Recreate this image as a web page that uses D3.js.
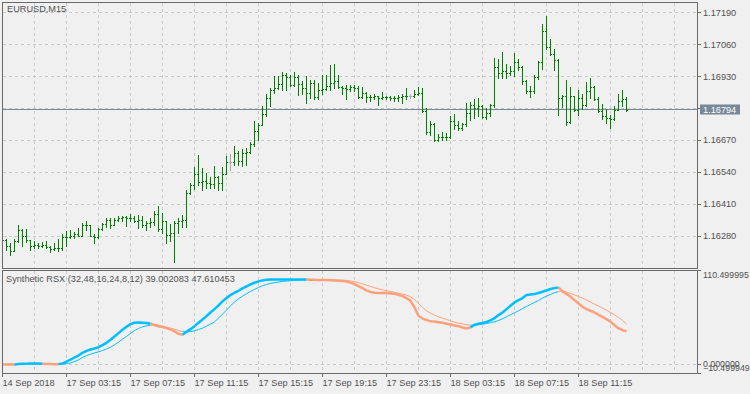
<!DOCTYPE html>
<html>
<head>
<meta charset="utf-8">
<script src="https://cdnjs.cloudflare.com/ajax/libs/d3/7.8.5/d3.min.js"></script>
<style>
  body { margin: 0; background: #f0f0f0; }
  svg { display: block; font-family: "Liberation Sans", Arial, sans-serif; }
</style>
</head>
<body>
<div id="chart"></div>
<script>
// Data
const symbolTitle = "EURUSD,M15";
const indicatorName = "Synthetic RSX (32,48,16,24,8,12)";

const barOpen = [1.16258,1.16263,1.16241,1.16221,1.16258,1.16306,1.16282,1.16262,1.16241,1.16244,
  1.16239,1.16244,1.16236,1.16228,1.16230,1.16233,1.16274,1.16277,1.16279,1.16287,
  1.16282,1.16326,1.16323,1.16282,1.16274,1.16309,1.16328,1.16347,1.16326,1.16344,
  1.16355,1.16358,1.16352,1.16355,1.16339,1.16347,1.16323,1.16334,1.16336,1.16371,
  1.16309,1.16341,1.16286,1.16292,1.16334,1.16340,1.16347,1.16456,1.16489,1.16530,
  1.16500,1.16503,1.16496,1.16492,1.16519,1.16496,1.16533,1.16582,1.16582,1.16616,
  1.16584,1.16618,1.16622,1.16652,1.16706,1.16733,1.16777,1.16842,1.16875,1.16881,
  1.16896,1.16933,1.16925,1.16893,1.16925,1.16898,1.16882,1.16862,1.16902,1.16844,
  1.16875,1.16878,1.16891,1.16900,1.16909,1.16886,1.16882,1.16879,1.16886,1.16882,
  1.16846,1.16862,1.16846,1.16843,1.16848,1.16842,1.16846,1.16844,1.16842,1.16839,
  1.16846,1.16848,1.16851,1.16851,1.16858,1.16862,1.16786,1.16703,1.16737,1.16672,
  1.16683,1.16684,1.16683,1.16746,1.16733,1.16720,1.16737,1.16781,1.16814,1.16802,
  1.16807,1.16764,1.16778,1.16811,1.16967,1.16943,1.16950,1.16943,1.16950,1.16986,
  1.16967,1.16909,1.16871,1.16868,1.16927,1.16988,1.17115,1.17049,1.17021,1.16997,
  1.16842,1.16848,1.16744,1.16848,1.16794,1.16842,1.16811,1.16868,1.16885,1.16835,
  1.16787,1.16767,1.16760,1.16757,1.16794,1.16828,1.16835];

const barHigh = [1.16278,1.16266,1.16250,1.16269,1.16323,1.16310,1.16309,1.16265,1.16259,1.16252,
  1.16255,1.16258,1.16241,1.16252,1.16266,1.16287,1.16300,1.16304,1.16295,1.16312,
  1.16334,1.16339,1.16326,1.16287,1.16312,1.16331,1.16352,1.16352,1.16352,1.16363,
  1.16363,1.16363,1.16371,1.16360,1.16366,1.16363,1.16342,1.16352,1.16382,1.16401,
  1.16373,1.16343,1.16327,1.16339,1.16354,1.16367,1.16469,1.16496,1.16562,1.16608,
  1.16557,1.16537,1.16519,1.16564,1.16522,1.16562,1.16604,1.16614,1.16644,1.16625,
  1.16632,1.16636,1.16663,1.16746,1.16740,1.16807,1.16858,1.16882,1.16929,1.16932,
  1.16947,1.16943,1.16936,1.16947,1.16933,1.16909,1.16931,1.16916,1.16916,1.16902,
  1.16933,1.16936,1.16973,1.16980,1.16933,1.16891,1.16893,1.16893,1.16893,1.16889,
  1.16886,1.16866,1.16852,1.16858,1.16851,1.16864,1.16851,1.16848,1.16848,1.16855,
  1.16858,1.16882,1.16858,1.16875,1.16885,1.16882,1.16801,1.16749,1.16741,1.16696,
  1.16702,1.16699,1.16767,1.16774,1.16746,1.16740,1.16821,1.16824,1.16835,1.16842,
  1.16811,1.16802,1.16816,1.17004,1.17000,1.17028,1.16977,1.16970,1.17024,1.17000,
  1.16970,1.16916,1.16891,1.16936,1.16990,1.17143,1.17176,1.17081,1.17041,1.17001,
  1.16855,1.16912,1.16886,1.16851,1.16872,1.16859,1.16905,1.16923,1.16889,1.16846,
  1.16818,1.16797,1.16770,1.16807,1.16859,1.16875,1.16846];

const barLow = [1.16250,1.16225,1.16202,1.16218,1.16255,1.16239,1.16255,1.16225,1.16233,1.16230,
  1.16236,1.16232,1.16214,1.16222,1.16220,1.16222,1.16241,1.16271,1.16271,1.16279,
  1.16279,1.16304,1.16280,1.16252,1.16271,1.16304,1.16317,1.16312,1.16323,1.16342,
  1.16342,1.16320,1.16339,1.16336,1.16312,1.16317,1.16306,1.16317,1.16326,1.16301,
  1.16294,1.16251,1.16259,1.16175,1.16293,1.16317,1.16316,1.16449,1.16473,1.16489,
  1.16469,1.16476,1.16476,1.16476,1.16465,1.16469,1.16530,1.16550,1.16570,1.16568,
  1.16566,1.16568,1.16618,1.16644,1.16672,1.16730,1.16767,1.16807,1.16862,1.16879,
  1.16875,1.16872,1.16890,1.16890,1.16852,1.16858,1.16821,1.16842,1.16835,1.16835,
  1.16858,1.16875,1.16875,1.16882,1.16882,1.16858,1.16837,1.16868,1.16868,1.16842,
  1.16842,1.16825,1.16828,1.16835,1.16811,1.16835,1.16837,1.16831,1.16828,1.16828,
  1.16821,1.16837,1.16839,1.16844,1.16852,1.16784,1.16696,1.16692,1.16665,1.16665,
  1.16669,1.16672,1.16680,1.16713,1.16710,1.16710,1.16729,1.16750,1.16761,1.16767,
  1.16760,1.16756,1.16767,1.16806,1.16923,1.16923,1.16923,1.16936,1.16929,1.16956,
  1.16896,1.16862,1.16846,1.16862,1.16919,1.16959,1.17041,1.17015,1.16954,1.16770,
  1.16805,1.16733,1.16740,1.16787,1.16770,1.16797,1.16810,1.16842,1.16832,1.16783,
  1.16757,1.16740,1.16720,1.16753,1.16791,1.16807,1.16787];

const barClose = [1.16263,1.16241,1.16221,1.16258,1.16306,1.16282,1.16262,1.16241,1.16244,1.16239,
  1.16244,1.16236,1.16228,1.16230,1.16233,1.16274,1.16277,1.16279,1.16287,1.16282,
  1.16326,1.16323,1.16282,1.16274,1.16309,1.16328,1.16347,1.16326,1.16344,1.16355,
  1.16358,1.16352,1.16355,1.16339,1.16347,1.16323,1.16334,1.16336,1.16371,1.16309,
  1.16341,1.16286,1.16292,1.16334,1.16340,1.16347,1.16456,1.16489,1.16530,1.16500,
  1.16503,1.16496,1.16492,1.16519,1.16496,1.16533,1.16582,1.16582,1.16616,1.16584,
  1.16618,1.16622,1.16652,1.16706,1.16733,1.16777,1.16842,1.16875,1.16881,1.16896,
  1.16933,1.16925,1.16893,1.16925,1.16898,1.16882,1.16862,1.16902,1.16844,1.16875,
  1.16878,1.16891,1.16900,1.16909,1.16886,1.16882,1.16879,1.16886,1.16882,1.16846,
  1.16862,1.16846,1.16843,1.16848,1.16842,1.16846,1.16844,1.16842,1.16839,1.16846,
  1.16848,1.16851,1.16851,1.16858,1.16862,1.16786,1.16703,1.16737,1.16672,1.16683,
  1.16684,1.16683,1.16746,1.16733,1.16720,1.16737,1.16781,1.16814,1.16802,1.16807,
  1.16764,1.16778,1.16811,1.16967,1.16943,1.16950,1.16943,1.16950,1.16986,1.16967,
  1.16909,1.16871,1.16868,1.16927,1.16988,1.17115,1.17049,1.17021,1.16997,1.16842,
  1.16848,1.16744,1.16848,1.16794,1.16842,1.16811,1.16868,1.16885,1.16835,1.16787,
  1.16767,1.16760,1.16757,1.16794,1.16828,1.16835,1.16794];

const rsxMain = [0,0,0.1,0.2,0.6,0.9,1.1,1.2,1.2,1.2,1.1,0.8,0.6,0.5,0.5,
  1.2,3.6,5.9,8.3,10.6,13.8,16.1,17.7,18.9,20.4,22.8,25.5,29.1,33.0,36.9,40.8,44.4,47.5,49.1,49.5,
  49.1,48.7,47.9,46.4,45.1,44.0,42.8,41.2,38.9,36.1,34.9,
  38.5,41.6,45.1,49.1,53.0,56.9,61.2,65.1,69.5,74.2,78.1,81.6,84.4,86.7,89.5,91.8,94.2,96.1,97.7,98.9,99.6,
  100,100,100,100,100,100,100,100,100,100,
  99.6,99.5,99.4,99.3,99.2,99.0,98.8,98.6,98.3,
  97.6,96.3,94.5,92.2,89.8,87.1,85.3,84.4,
  84.2,84.0,84.0,83.6,83.2,82.0,80.4,78.1,74.9,67.1,57.3,54.0,52.2,51.0,50.6,49.8,49.1,47.9,47.1,45.9,45.1,43.6,42.4,
  43.6,46.8,48.0,49.0,50.0,52.0,54.5,58.1,61.2,65.1,69.1,73.0,75.7,78.1,81.6,82.4,82.8,84.0,85.5,87.1,88.7,89.8,90.6,
  86.0,82.8,79.6,75.7,71.8,67.9,65.1,63.2,61.2,58.5,56.1,53.4,50.2,46.3,42.8,40.4,39.002083];

const rsxSignal = [0.2,0.2,0.2,0.3,0.4,0.6,0.8,0.9,1.0,1.1,1.1,1.0,0.9,0.8,0.7,
  0.8,1.0,2.0,3.6,5.5,8.3,10.6,12.2,13.8,14.9,16.5,18.5,20.4,23.2,26.3,29.8,33.0,36.5,40.0,42.4,
  44.4,45.5,46.3,46.8,46.3,45.1,44.0,42.8,41.6,40.0,38.9,
  38.1,38.9,39.6,41.2,42.8,45.1,47.5,50.2,54.5,59.3,64.0,69.1,73.4,77.3,80.4,83.2,85.9,88.3,90.6,92.6,94.2,
  95.3,96.1,96.9,97.7,98.1,98.5,98.9,99.3,99.4,99.5,
  99.7,99.7,99.7,99.6,99.6,99.5,99.4,99.3,99.1,98.8,98.2,97.4,96.2,94.9,93.3,91.8,90.3,
  89.0,87.8,86.7,85.9,84.8,83.8,82.8,81.6,79.6,76.5,71.8,67.1,63.2,60.4,58.1,56.1,54.5,53.0,51.4,49.8,48.7,47.9,46.7,46.3,
  46.2,46.7,47.5,48.3,49.1,50.2,51.8,53.8,56.1,58.5,60.8,63.2,65.9,68.3,70.6,73.0,75.3,78.1,80.4,82.4,84.4,85.5,
  86.7,85.1,83.6,82.0,80.0,78.1,75.7,73.4,71.0,68.7,66.3,64.0,61.2,58.5,55.3,51.8,47.610453];

const priceTicks = [1.16280, 1.16410, 1.16540, 1.16670, 1.16800, 1.16930, 1.17060, 1.17190];
const lastPrice = 1.16794;
const priceMin = 1.16150, priceMax = 1.17233;
const rsxMin = -10.499949, rsxMax = 110.499995;
const rsxTicks = [rsxMax, 0, rsxMin];
const timeTickBars = [0, 16, 32, 48, 64, 80, 96, 112, 128, 144];
const timeTickLabels = ["14 Sep 2018", "17 Sep 03:15", "17 Sep 07:15", "17 Sep 11:15", "17 Sep 15:15",
  "17 Sep 19:15", "17 Sep 23:15", "18 Sep 03:15", "18 Sep 07:15", "18 Sep 11:15"];

// Layout
const [width, height] = [750, 394];
const left = 2, right = 697;
const mainTop = 2, mainBottom = 268, subTop = 270, subBottom = 373;
const barStep = 4, gridEvery = 8;
const fontSize = 9.2, subAxisFontSize = 8.8;
const bgColor = "#f0f0f0", frameColor = "#696969", textColor = "#505050", gridColor = "#c8c8c8";
const barColor = "#008000", dojiColor = "#a8a8a8";
const upColor = "#00bfff", downColor = "#ffa07a", priceLineColor = "#778899";

const svg = d3.select("#chart").append("svg")
  .attr("width", width)
  .attr("height", height);

svg.append("rect").attr("width", width).attr("height", height).attr("fill", bgColor);

const x = d3.scaleLinear().domain([0, 1]).range([left, left + barStep]);
const yPrice = d3.scaleLinear().domain([priceMin, priceMax]).range([mainBottom, mainTop - 0.5]);
const ySub = d3.scaleLinear().domain([rsxMin, rsxMax]).range([subBottom, subTop]);

const defs = svg.append("defs");
defs.append("clipPath").attr("id", "clipMain").append("rect")
  .attr("x", left + 1).attr("y", mainTop + 1).attr("width", right - left - 1).attr("height", mainBottom - mainTop - 1);
defs.append("clipPath").attr("id", "clipSub").append("rect")
  .attr("x", left).attr("y", subTop + 1).attr("width", right - left).attr("height", subBottom - subTop - 1);

// Grid
const gridBars = d3.range(gridEvery, (right - left) / barStep, gridEvery);
const grid = svg.append("g")
  .attr("stroke", gridColor)
  .attr("stroke-dasharray", "3,3")
  .attr("shape-rendering", "crispEdges");

[[mainTop, mainBottom], [subTop, subBottom]].forEach(([t, b]) => {
  grid.selectAll(null).data(gridBars).enter().append("line")
    .attr("x1", d => x(d) + 0.5).attr("x2", d => x(d) + 0.5)
    .attr("y1", t + 1).attr("y2", b);
});

grid.selectAll(null).data(priceTicks).enter().append("line")
  .attr("x1", left + 1).attr("x2", right)
  .attr("y1", d => Math.round(yPrice(d)) + 0.5).attr("y2", d => Math.round(yPrice(d)) + 0.5);

grid.append("line")
  .attr("x1", left + 1).attr("x2", right)
  .attr("y1", Math.round(ySub(0)) + 0.5).attr("y2", Math.round(ySub(0)) + 0.5);

// Current price line
svg.append("line")
  .attr("x1", left + 1).attr("x2", right)
  .attr("y1", Math.round(yPrice(lastPrice)) - 0.5).attr("y2", Math.round(yPrice(lastPrice)) - 0.5)
  .attr("stroke", priceLineColor)
  .attr("shape-rendering", "crispEdges");

// Bars
const bars = barOpen.map((o, i) => ({ i, o, h: barHigh[i], l: barLow[i], c: barClose[i] }));
const barG = svg.append("g")
  .attr("clip-path", "url(#clipMain)")
  .attr("shape-rendering", "crispEdges");

const barSel = barG.selectAll("g").data(bars).enter().append("g")
  .attr("fill", d => d.o === d.c ? dojiColor : barColor);

barSel.append("rect")
  .attr("x", d => x(d.i))
  .attr("y", d => Math.round(yPrice(d.h)))
  .attr("width", 1)
  .attr("height", d => Math.round(yPrice(d.l)) - Math.round(yPrice(d.h)) + 1);
barSel.append("rect")
  .attr("x", d => x(d.i) - 1)
  .attr("y", d => Math.round(yPrice(d.o)))
  .attr("width", 1).attr("height", 1);
barSel.append("rect")
  .attr("x", d => x(d.i) + 1)
  .attr("y", d => Math.round(yPrice(d.c)))
  .attr("width", 1).attr("height", 1);

// Indicator lines, coloured by main vs signal
const rsxUp = rsxMain.map((v, i) => v >= rsxSignal[i]);
const lineG = svg.append("g").attr("clip-path", "url(#clipSub)");

const drawRsx = (values, strokeWidth) => {
  const runs = [];
  for (let i = 1; i < values.length; i++) {
    const last = runs[runs.length - 1];
    if (last && last.up === rsxUp[i]) last.idx.push(i);
    else runs.push({ up: rsxUp[i], idx: [i - 1, i] });
  }
  const line = d3.line()
    .x(i => x(i) + 0.5)
    .y(i => ySub(values[i]) + 0.5);
  lineG.selectAll(null).data(runs).enter().append("path")
    .attr("d", d => line(d.idx))
    .attr("fill", "none")
    .attr("stroke", d => d.up ? upColor : downColor)
    .attr("stroke-width", strokeWidth)
    .attr("stroke-linejoin", "round");
};

drawRsx(rsxSignal, 1);
drawRsx(rsxMain, 2.5);

// Axes
const styleAxis = (g, size) => {
  g.select(".domain").remove();
  g.attr("font-family", null).attr("font-size", size).attr("color", frameColor);
  g.selectAll("text").attr("fill", textColor);
};

svg.append("g")
  .attr("transform", `translate(${right},0)`)
  .call(d3.axisRight(yPrice).tickValues(priceTicks).tickSize(4).tickPadding(2).tickFormat(d3.format(".5f")))
  .call(styleAxis, fontSize);

const subAxis = svg.append("g")
  .attr("transform", `translate(${right},0)`)
  .call(d3.axisRight(ySub).tickValues(rsxTicks).tickSize(4).tickPadding(2).tickFormat(d3.format(".6f")))
  .call(styleAxis, subAxisFontSize);
subAxis.selectAll("text")
  .attr("dy", d => d === rsxMax ? "0.85em" : d === rsxMin ? "-0.3em" : "0.25em");

svg.append("g")
  .attr("transform", `translate(0,${subBottom})`)
  .call(d3.axisBottom(x).tickValues(timeTickBars).tickSize(4).tickPadding(2)
    .tickFormat((d, i) => timeTickLabels[i]))
  .call(styleAxis, fontSize)
  .selectAll("text").attr("text-anchor", "start");

// Current price label
const labelY = Math.round(yPrice(lastPrice)) - 0.5;
svg.append("rect")
  .attr("x", right + 3).attr("y", labelY - 5)
  .attr("width", 40).attr("height", 10)
  .attr("fill", priceLineColor);
svg.append("text")
  .attr("x", right + 6).attr("y", labelY)
  .attr("dy", "0.34em")
  .attr("font-size", fontSize)
  .attr("fill", "#ffffff")
  .text(d3.format(".5f")(lastPrice));

// Frames
svg.append("g")
  .attr("fill", "none")
  .attr("stroke", frameColor)
  .attr("shape-rendering", "crispEdges")
  .selectAll("rect")
  .data([[mainTop, mainBottom], [subTop, subBottom]])
  .enter().append("rect")
  .attr("x", left + 0.5).attr("y", d => d[0] + 0.5)
  .attr("width", right - left).attr("height", d => d[1] - d[0]);

// Titles
svg.append("text")
  .attr("x", 7).attr("y", 12)
  .attr("font-size", fontSize).attr("fill", textColor)
  .text(symbolTitle);

const fmt6 = d3.format(".6f");
svg.append("text")
  .attr("x", 6).attr("y", 282)
  .attr("font-size", fontSize).attr("fill", textColor)
  .text(`${indicatorName} ${fmt6(rsxMain[rsxMain.length - 1])} ${fmt6(rsxSignal[rsxSignal.length - 1])}`);
</script>
</body>
</html>
